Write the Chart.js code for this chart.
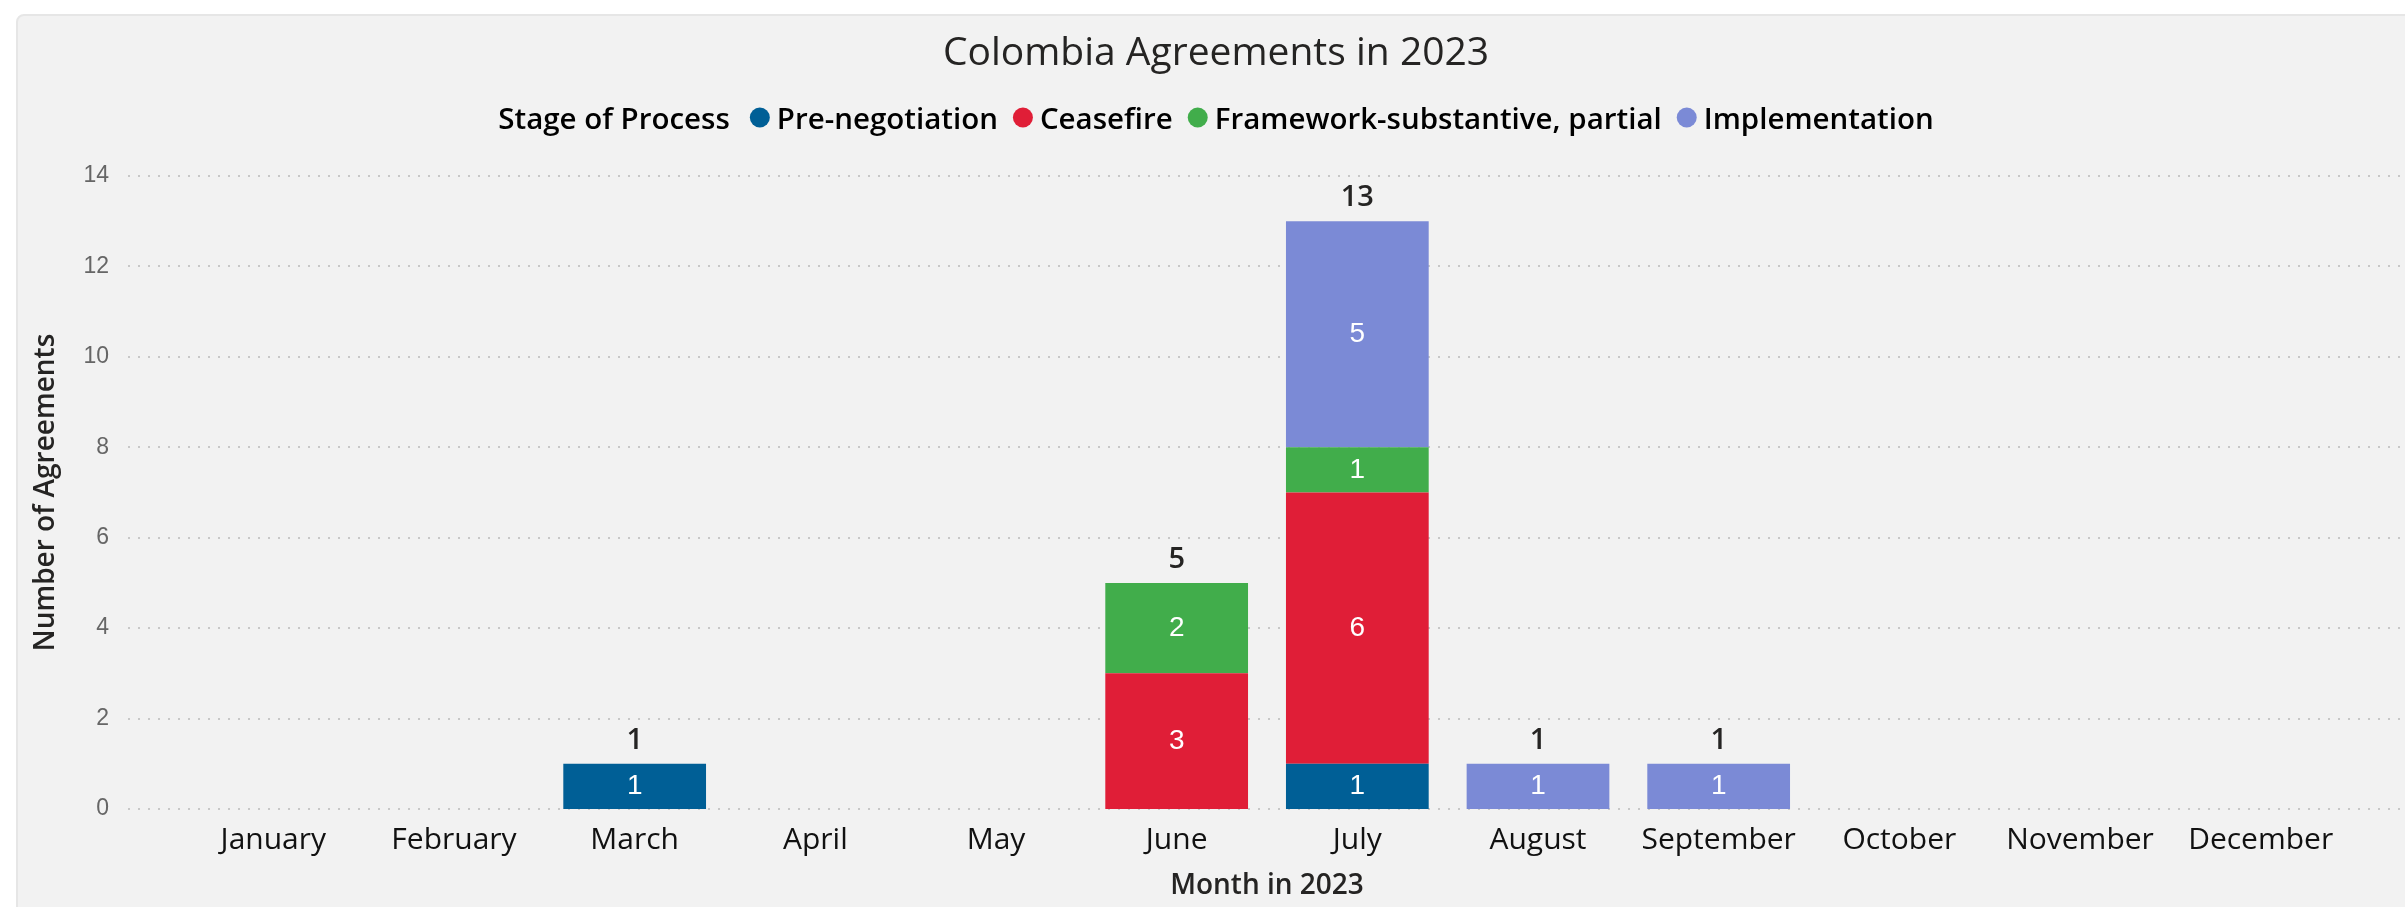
<!DOCTYPE html>
<html>
<head>
<meta charset="utf-8">
<title>Colombia Agreements in 2023</title>
<script src="https://cdn.jsdelivr.net/npm/chart.js@4.4.1/dist/chart.umd.min.js"></script>
<style>
  html, body { margin: 0; padding: 0; background: #ffffff; overflow: hidden; }
  .card {
    position: absolute; left: 16px; top: 14px;
    width: 2440px; height: 950px;
    background: #f2f2f2; border: 2px solid #e6e6e6; border-radius: 8px;
    box-sizing: border-box;
  }
  #agreementsChart { position: absolute; left: 0; top: 0; }
</style>
</head>
<body>
<div class="card"></div>
<canvas id="agreementsChart" width="2405" height="907"></canvas>
<script>
/* ===== data ===== */
const months = ['January', 'February', 'March', 'April', 'May', 'June',
                'July', 'August', 'September', 'October', 'November', 'December'];

// agreements per month, one array per stage of process
const preNegotiation = [0, 0, 1, 0, 0, 0, 1, 0, 0, 0, 0, 0];
const ceasefire      = [0, 0, 0, 0, 0, 3, 6, 0, 0, 0, 0, 0];
const framework      = [0, 0, 0, 0, 0, 2, 1, 0, 0, 0, 0, 0];
const implementation = [0, 0, 0, 0, 0, 0, 5, 1, 1, 0, 0, 0];

const stageNames  = ['Pre-negotiation', 'Ceasefire', 'Framework-substantive, partial', 'Implementation'];
const stageColors = ['#005f96', '#e01e37', '#41ad4b', '#7b8ad6'];
const yTicks = [0, 2, 4, 6, 8, 10, 12, 14];

const FONT = '"Open Sans", "Noto Sans", sans-serif';
const NUM_FONT = '"Liberation Sans", Arial, sans-serif';

/* ===== dotted horizontal gridlines (run past the plot area, like the card) ===== */
const gridDots = {
    id: 'gridDots',
    beforeDatasetsDraw(chart, args, opts) {
        const ctx = chart.ctx;
        const yScale = chart.scales.y;
        ctx.save();
        ctx.strokeStyle = opts.color;
        ctx.lineWidth = 2;
        ctx.setLineDash([2, 8]);
        yScale.ticks.forEach(t => {
            const py = Math.round(yScale.getPixelForValue(t.value));
            ctx.beginPath();
            ctx.moveTo(opts.left, py);
            ctx.lineTo(chart.width, py);
            ctx.stroke();
        });
        ctx.restore();
    }
};

/* ===== title + inline legend row ===== */
const header = {
    id: 'header',
    afterDraw(chart, args, opts) {
        const ctx = chart.ctx;
        ctx.save();
        ctx.textBaseline = 'alphabetic';

        ctx.fillStyle = '#252423';
        ctx.font = '500 39px ' + FONT;
        ctx.textAlign = 'center';
        ctx.fillText(opts.title, opts.centerX, opts.titleBaseline);

        // legend: "Stage of Process" followed by a dot + name per dataset
        ctx.font = '600 29.5px ' + FONT;
        ctx.textAlign = 'left';
        const dot = 20, dotGap = 7, itemGap = 15, leadGap = 20;
        const items = chart.data.datasets.map(ds => ({ text: ds.label, color: ds.backgroundColor }));
        let total = ctx.measureText(opts.legendTitle).width + leadGap;
        items.forEach((it, i) => {
            it.w = ctx.measureText(it.text).width;
            total += dot + dotGap + it.w + (i < items.length - 1 ? itemGap : 0);
        });

        let x = opts.centerX - total / 2;
        const base = opts.legendBaseline;
        ctx.fillStyle = '#000000';
        ctx.fillText(opts.legendTitle, x, base);
        x += ctx.measureText(opts.legendTitle).width + leadGap;
        items.forEach(it => {
            ctx.fillStyle = it.color;
            ctx.beginPath();
            ctx.arc(x + dot / 2, base - 11.5, dot / 2, 0, Math.PI * 2);
            ctx.fill();
            x += dot + dotGap;
            ctx.fillStyle = '#000000';
            ctx.fillText(it.text, x, base);
            x += it.w + itemGap;
        });
        ctx.restore();
    }
};

/* ===== segment values + stack totals ===== */
const valueLabels = {
    id: 'valueLabels',
    afterDatasetsDraw(chart) {
        const ctx = chart.ctx;
        ctx.save();
        ctx.textAlign = 'center';

        ctx.font = '28px ' + NUM_FONT;
        ctx.fillStyle = '#ffffff';
        ctx.textBaseline = 'middle';
        chart.data.datasets.forEach((ds, di) => {
            chart.getDatasetMeta(di).data.forEach((bar, i) => {
                const v = ds.data[i];
                if (!v) return;
                ctx.fillText(String(v), bar.x, (bar.y + bar.base) / 2);
            });
        });

        ctx.font = '600 29px ' + FONT;
        ctx.fillStyle = '#252423';
        ctx.textBaseline = 'alphabetic';
        months.forEach((m, i) => {
            const sum = chart.data.datasets.reduce((s, ds) => s + ds.data[i], 0);
            if (!sum) return;
            const x = chart.scales.x.getPixelForValue(i);
            const y = chart.scales.y.getPixelForValue(sum);
            ctx.fillText(String(sum), x, y - 15);
        });
        ctx.restore();
    }
};

const series = [preNegotiation, ceasefire, framework, implementation];

new Chart(document.getElementById('agreementsChart'), {
    type: 'bar',
    data: {
        labels: months,
        datasets: stageNames.map((name, i) => ({
            label: name,
            data: series[i],
            backgroundColor: stageColors[i],
            borderWidth: 0,
            barPercentage: 0.79,
            categoryPercentage: 1
        }))
    },
    options: {
        responsive: false,
        animation: false,
        layout: { padding: { left: 20, right: 54, top: 176, bottom: 0 } },
        plugins: {
            legend: { display: false },
            tooltip: { enabled: false },
            gridDots: { color: '#c8c8c8', left: 128 },
            header: {
                title: 'Colombia Agreements in 2023',
                legendTitle: 'Stage of Process',
                centerX: 1216,
                titleBaseline: 65,
                legendBaseline: 129
            }
        },
        scales: {
            x: {
                stacked: true,
                grid: { display: false, drawTicks: false },
                border: { display: false },
                ticks: {
                    font: { family: FONT, size: 30 },
                    color: '#111111',
                    padding: 13,
                    maxRotation: 0,
                    autoSkip: false
                },
                title: {
                    display: true,
                    text: 'Month in 2023',
                    font: { family: FONT, size: 28, weight: '600' },
                    color: '#252423',
                    padding: { top: 0, bottom: 4 }
                },
                afterFit(scale) { scale.height = 98; }
            },
            y: {
                stacked: true,
                min: 0,
                max: 14,
                afterBuildTicks(scale) { scale.ticks = yTicks.map(v => ({ value: v })); },
                grid: { display: false, drawTicks: false },
                border: { display: false },
                ticks: {
                    font: { family: NUM_FONT, size: 23 },
                    color: '#666666',
                    padding: 74
                },
                title: {
                    display: true,
                    text: 'Number of Agreements',
                    font: { family: FONT, size: 28, weight: '600' },
                    color: '#252423',
                    padding: { top: 9, bottom: 0 }
                },
                afterFit(scale) { scale.width = 163; }
            }
        }
    },
    plugins: [gridDots, header, valueLabels]
});
</script>
</body>
</html>
